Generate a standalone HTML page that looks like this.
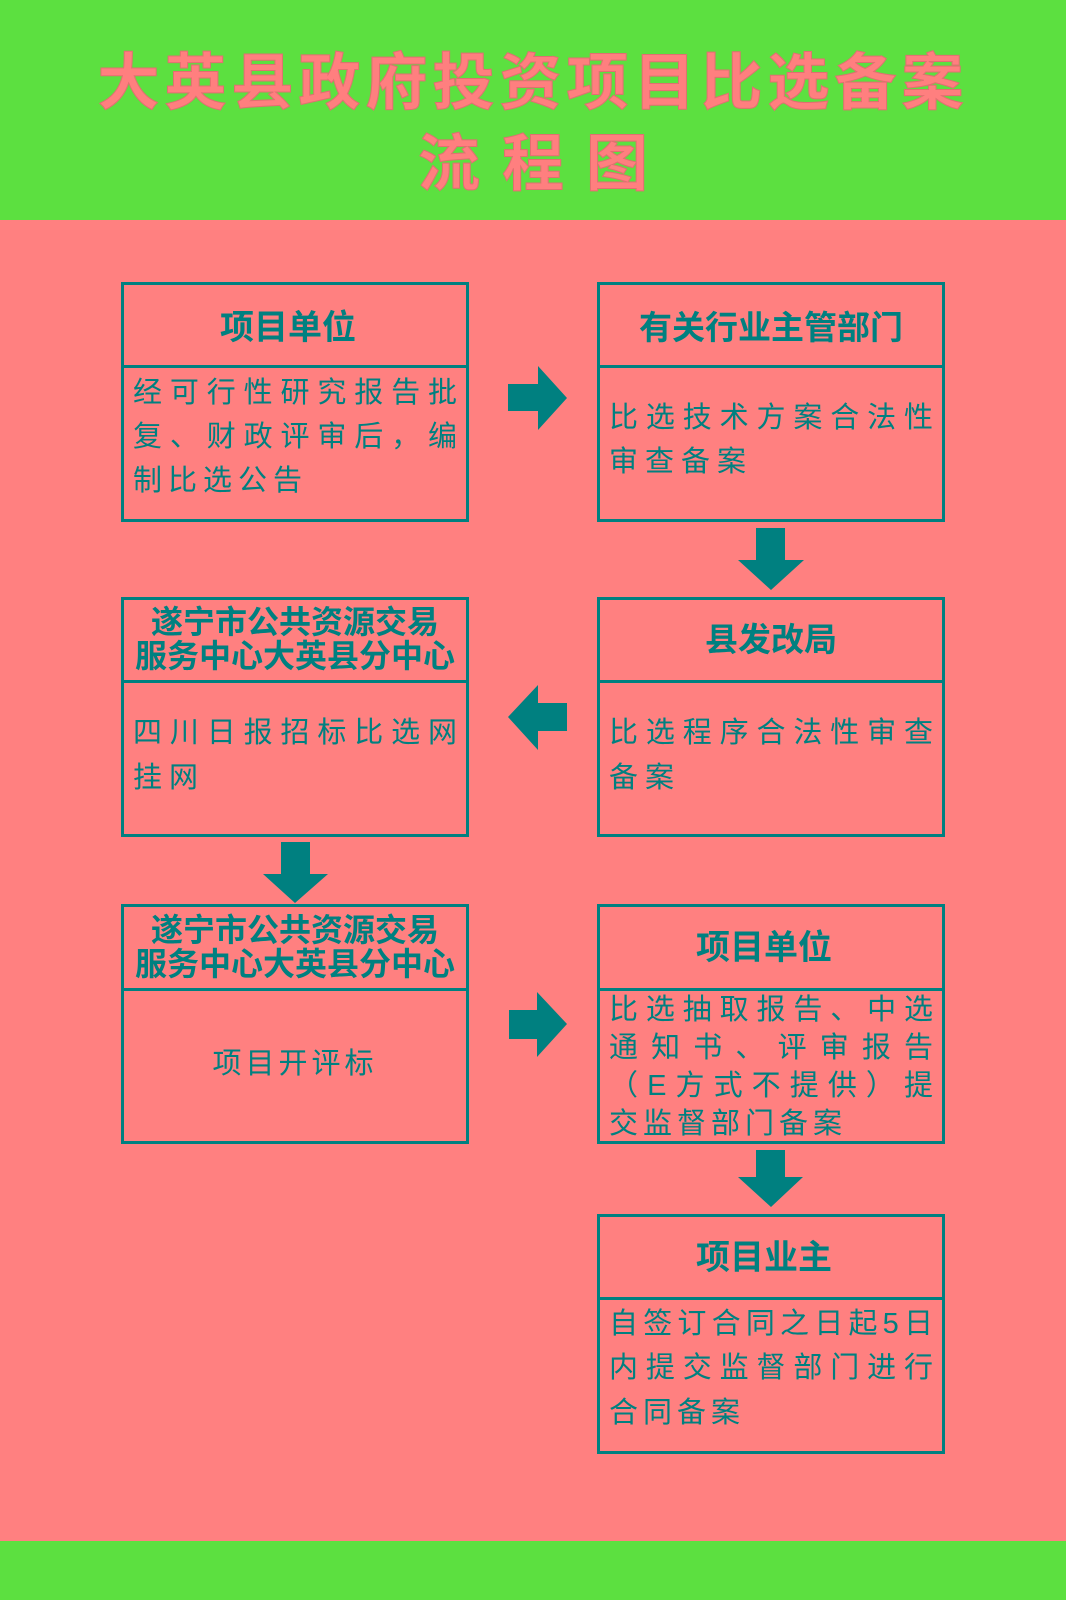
<!DOCTYPE html>
<html><head><meta charset="utf-8"><style>
*{margin:0;padding:0;box-sizing:border-box}
body{width:1066px;height:1600px;position:relative;background:#ff8080;overflow:hidden;font-family:"Liberation Sans","Noto Sans CJK SC",sans-serif;color:#008080}
.g{position:absolute;left:0;width:1066px;background:#5ce040}
.t{position:absolute;left:0;width:1066px;text-align:center;font-weight:bold;color:#ff7f7f;font-size:62px;line-height:70px;letter-spacing:5px;-webkit-text-stroke:1px #e07070}
.box{position:absolute;border:3px solid #008080;width:348px}
.hd{position:absolute;left:0;width:100%;border-bottom:3px solid #008080}
.l{position:absolute;white-space:nowrap;font-size:29px;line-height:40px;letter-spacing:7px}
.j{text-align:justify;text-align-last:justify;letter-spacing:0}
.h{position:absolute;white-space:nowrap;font-weight:bold;font-size:31px;line-height:36px;text-align:center}
svg{position:absolute}
</style></head><body>
<div class="g" style="top:0;height:220px"></div>
<div class="g" style="top:1541px;height:59px"></div>
<div class="t" style="top:49px">大英县政府投资项目比选备案</div>
<div class="t" style="top:130px;letter-spacing:22px;padding-left:22px">流程图</div>

<div class="box" style="left:121px;top:282px;height:240px"><div class="hd" style="top:0;height:83px"></div></div>
<div class="h" style="left:114px;width:348px;top:310px;font-size:34px">项目单位</div>
<div class="l j" style="left:133px;width:324px;top:373px">经可行性研究报告批</div>
<div class="l j" style="left:133px;width:324px;top:417px">复、财政评审后，编</div>
<div class="l" style="left:133px;top:461px;letter-spacing:6px">制比选公告</div>

<div class="box" style="left:597px;top:282px;height:240px"><div class="hd" style="top:0;height:83px"></div></div>
<div class="h" style="left:597px;width:348px;top:310px;font-size:33px">有关行业主管部门</div>
<div class="l j" style="left:609px;width:324px;top:398px">比选技术方案合法性</div>
<div class="l" style="left:609px;top:442px">审查备案</div>

<div class="box" style="left:121px;top:597px;height:240px"><div class="hd" style="top:0;height:83px"></div></div>
<div class="h" style="left:121px;width:348px;top:605px;line-height:34px;font-size:32px">遂宁市公共资源交易<br>服务中心大英县分中心</div>
<div class="l j" style="left:133px;width:324px;top:713px">四川日报招标比选网</div>
<div class="l" style="left:133px;top:758px">挂网</div>

<div class="box" style="left:597px;top:597px;height:240px"><div class="hd" style="top:0;height:83px"></div></div>
<div class="h" style="left:597px;width:348px;top:622px;font-size:33px">县发改局</div>
<div class="l j" style="left:609px;width:324px;top:713px">比选程序合法性审查</div>
<div class="l" style="left:609px;top:758px">备案</div>

<div class="box" style="left:121px;top:904px;height:240px"><div class="hd" style="top:0;height:84px"></div></div>
<div class="h" style="left:121px;width:348px;top:913px;line-height:34px;font-size:32px">遂宁市公共资源交易<br>服务中心大英县分中心</div>
<div class="l" style="left:121px;width:348px;text-align:center;top:1044px;letter-spacing:4px">项目开评标</div>

<div class="box" style="left:597px;top:904px;height:240px"><div class="hd" style="top:0;height:84px"></div></div>
<div class="h" style="left:590px;width:348px;top:930px;font-size:34px">项目单位</div>
<div class="l j" style="left:609px;width:324px;top:991px;line-height:38px">比选抽取报告、中选</div>
<div class="l j" style="left:609px;width:324px;top:1029px;line-height:38px">通知书、评审报告</div>
<div class="l j" style="left:609px;width:324px;top:1067px;line-height:38px">（E方式不提供）提</div>
<div class="l" style="left:609px;top:1105px;line-height:38px;letter-spacing:5px">交监督部门备案</div>

<div class="box" style="left:597px;top:1214px;height:240px"><div class="hd" style="top:0;height:83px"></div></div>
<div class="h" style="left:590px;width:348px;top:1240px;font-size:34px">项目业主</div>
<div class="l j" style="left:609px;width:324px;top:1304px">自签订合同之日起5日</div>
<div class="l j" style="left:609px;width:324px;top:1348px">内提交监督部门进行</div>
<div class="l" style="left:609px;top:1393px;letter-spacing:5px">合同备案</div>

<svg width="1066" height="1600" style="left:0;top:0">
<g fill="#008080">
<polygon points="508,384 538,384 538,366 567,398 538,430 538,411 508,411"/>
<polygon points="756,528 785,528 785,560 804,560 771,590 738,560 756,560"/>
<polygon points="567,703 538,703 538,685 508,717 538,750 538,731 567,731"/>
<polygon points="281,842 310,842 310,874 328,874 295,903 263,874 281,874"/>
<polygon points="509,1010 537,1010 537,992 567,1024 537,1057 537,1039 509,1039"/>
<polygon points="756,1150 785,1150 785,1177 803,1177 771,1207 738,1177 756,1177"/>
</g></svg>
</body></html>
